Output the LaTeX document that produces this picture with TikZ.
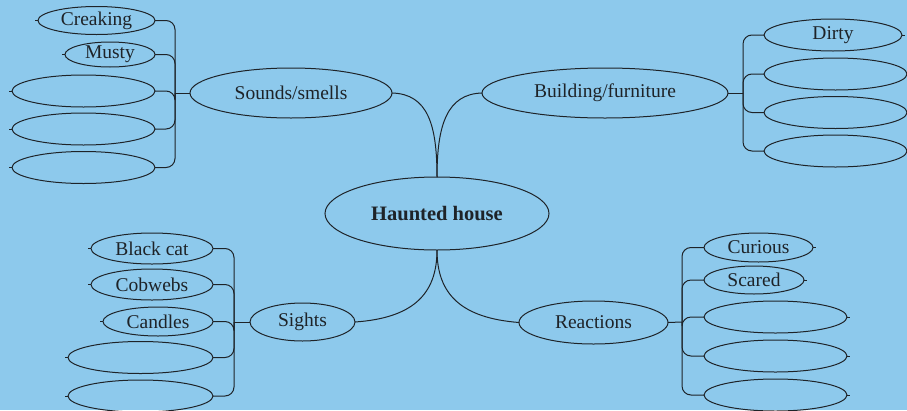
\documentclass[tikz,border=0pt]{standalone}
\usepackage{fontspec}
\setmainfont{Liberation Serif}
\usetikzlibrary{shapes.geometric}
\definecolor{skyback}{HTML}{8DC9EC}
\definecolor{inkline}{HTML}{1E2328}
\begin{document}
\begin{tikzpicture}[x=1pt,y=-1pt,
  bubble/.style={draw=inkline, ellipse, inner sep=0pt, outer sep=0pt, line width=1pt,
    font=\fontsize{19.5}{21}\selectfont, text=inkline},
  link/.style={draw=inkline, line width=1pt},
  branch/.style={link, rounded corners=9pt},
  tick/.style={link},
]
\fill[skyback] (0,0) rectangle (907,410);
\useasboundingbox (0,0) rectangle (907,410);

% centre topic
\node[bubble, minimum width=224pt, minimum height=73pt,
      font=\fontsize{20.5}{22}\selectfont\bfseries] (hh) at (437,213.5) {Haunted house};

% main topics
\node[bubble, minimum width=202pt, minimum height=50pt] (snd) at (291,93) {Sounds/smells};
\node[bubble, minimum width=246pt, minimum height=50pt] (bld) at (605,93) {Building/furniture};
\node[bubble, minimum width=105pt, minimum height=38pt] (sgt) at (302.5,322) {Sights};
\node[bubble, minimum width=149pt, minimum height=43pt] (rea) at (593.5,322.5) {Reactions};

% main branches
\draw[link] (snd.east) .. controls (428,94) and (437,125) .. (hh.north);
\draw[link] (bld.west) .. controls (447,94) and (437,125) .. (hh.north);
\draw[link] (sgt.east) .. controls (412,318) and (437,295) .. (hh.south);
\draw[link] (rea.west) .. controls (462,318) and (437,295) .. (hh.south);

% junctions
\coordinate (sj) at (175,93);
\coordinate (bj) at (743,93);
\coordinate (gj) at (234,322);
\coordinate (rj) at (682,322);

% sounds/smells leaves
\node[bubble, minimum width=117pt, minimum height=28pt] (s1) at (96.5,20.5) {Creaking};
\node[bubble, minimum width=90pt, minimum height=25pt] (s2) at (110,54.5) {Musty};
\node[bubble, minimum width=143pt, minimum height=32pt] (s3) at (83.5,91) {};
\node[bubble, minimum width=143pt, minimum height=32pt] (s4) at (83.5,129) {};
\node[bubble, minimum width=143pt, minimum height=32pt] (s5) at (83.5,167.5) {};
\draw[link] (snd.west) -- (sj);
\foreach \n in {s1,s2,s3,s4,s5}{
  \draw[branch] (\n.east) -| (sj);
  \draw[tick] (\n.west) -- ++(-3,0);
}

% building/furniture leaves
\node[bubble, minimum width=138pt, minimum height=32pt] (b1) at (833,35) {Dirty};
\node[bubble, minimum width=143pt, minimum height=32pt] (b2) at (835.5,74) {};
\node[bubble, minimum width=143pt, minimum height=32pt] (b3) at (835.5,112.5) {};
\node[bubble, minimum width=143pt, minimum height=32pt] (b4) at (835.5,151) {};
\draw[link] (bld.east) -- (bj);
\foreach \n in {b1,b2,b3,b4}{
  \draw[branch] (\n.west) -| (bj);
  \draw[tick] (\n.east) -- ++(3,0);
}

% sights leaves
\node[bubble, minimum width=122pt, minimum height=31pt] (g1) at (152,248.5) {Black cat};
\node[bubble, minimum width=122pt, minimum height=31pt] (g2) at (152,284.5) {Cobwebs};
\node[bubble, minimum width=110pt, minimum height=29pt] (g3) at (158,321.5) {Candles};
\node[bubble, minimum width=145pt, minimum height=32pt] (g4) at (140.5,357.5) {};
\node[bubble, minimum width=145pt, minimum height=32pt] (g5) at (140.5,396) {};
\draw[link] (sgt.west) -- (gj);
\foreach \n in {g1,g2,g3,g4,g5}{
  \draw[branch] (\n.east) -| (gj);
  \draw[tick] (\n.west) -- ++(-3,0);
}

% reactions leaves
\node[bubble, minimum width=109pt, minimum height=29pt] (r1) at (758.5,247.5) {Curious};
\node[bubble, minimum width=100pt, minimum height=28pt] (r2) at (754,280) {Scared};
\node[bubble, minimum width=143pt, minimum height=32pt] (r3) at (775.5,317) {};
\node[bubble, minimum width=143pt, minimum height=32pt] (r4) at (775.5,356) {};
\node[bubble, minimum width=143pt, minimum height=32pt] (r5) at (775.5,395) {};
\draw[link] (rea.east) -- (rj);
\foreach \n in {r1,r2,r3,r4,r5}{
  \draw[branch] (\n.west) -| (rj);
  \draw[tick] (\n.east) -- ++(3,0);
}
\end{tikzpicture}
\end{document}
